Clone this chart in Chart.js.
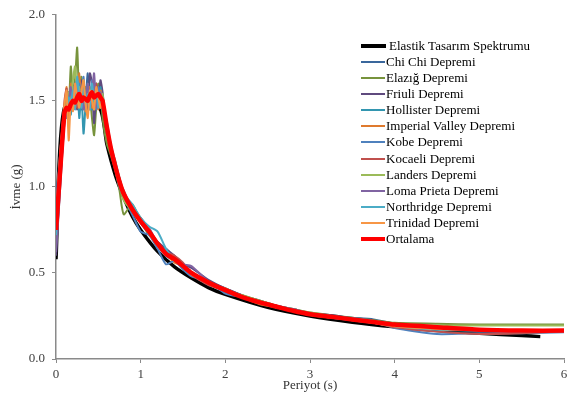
<!DOCTYPE html>
<html>
<head>
<meta charset="utf-8">
<script src="https://cdn.jsdelivr.net/npm/chart.js@4.4.0/dist/chart.umd.min.js"></script>
<style>
body { margin: 0; background: #fff; }
#wrap { position: relative; width: 585px; height: 401px; }
#legend { position: absolute; left: 361px; top: 37.6px; font-family: 'Liberation Serif', 'Times New Roman', serif; font-size: 13px; color: #000; }
#legend .row { height: 16.13px; display: flex; align-items: center; white-space: nowrap; }
#legend .sw { display: inline-block; width: 24px; margin-right: 1px; }
</style>
</head>
<body>
<div id="wrap">
  <canvas id="myChart" width="585" height="401"></canvas>
  <div id="legend"></div>
</div>
<script>
// periods (s) shared by the earthquake spectra
var periods = [0, 0.05, 0.1, 0.125, 0.15, 0.175, 0.2, 0.225, 0.25, 0.275,
  0.3, 0.325, 0.35, 0.375, 0.4, 0.425, 0.45, 0.475, 0.5, 0.525,
  0.55, 0.6, 0.65, 0.7, 0.75, 0.8, 0.9, 1.0, 1.1, 1.2,
  1.3, 1.4, 1.5, 1.6, 1.8, 2.0, 2.2, 2.4, 2.6, 2.8,
  3.0, 3.25, 3.5, 3.75, 4.0, 4.5, 5.0, 5.5, 6.0];

// elastic design spectrum
var designPeriods = [0, 0.1, 0.51, 0.6, 0.7, 0.8, 0.9, 1.0, 1.2, 1.4, 1.6, 1.8, 2.0, 2.5, 3.0, 3.5, 4.0, 4.5, 5.0, 5.5, 5.72];
var designValues = [0.58, 1.46, 1.46, 1.25, 1.07, 0.94, 0.83, 0.75, 0.625, 0.535, 0.47, 0.415, 0.375, 0.30, 0.25, 0.214, 0.187, 0.166, 0.15, 0.136, 0.13];

var chiChi = [0.95, 1.15, 1.40, 1.48, 1.42, 1.55, 1.50, 1.62, 1.48, 1.58,
  1.45, 1.60, 1.52, 1.66, 1.50, 1.58, 1.44, 1.60, 1.55, 1.48,
  1.52, 1.36, 1.20, 1.14, 1.02, 0.98, 0.86, 0.82, 0.75, 0.66,
  0.60, 0.57, 0.54, 0.50, 0.45, 0.41, 0.37, 0.34, 0.31, 0.29,
  0.265, 0.25, 0.24, 0.23, 0.205, 0.18, 0.165, 0.16, 0.16];
var elazig = [0.70, 1.05, 1.38, 1.52, 1.45, 1.70, 1.55, 1.62, 1.81, 1.50,
  1.64, 1.48, 1.58, 1.45, 1.52, 1.40, 1.30, 1.46, 1.60, 1.58,
  1.40, 1.25, 1.18, 1.10, 0.98, 0.84, 0.90, 0.80, 0.72, 0.68,
  0.62, 0.58, 0.53, 0.50, 0.45, 0.40, 0.37, 0.34, 0.31, 0.29,
  0.27, 0.255, 0.24, 0.225, 0.21, 0.205, 0.20, 0.20, 0.20];
var friuli = [0.60, 1.00, 1.38, 1.45, 1.55, 1.48, 1.52, 1.60, 1.45, 1.55,
  1.62, 1.50, 1.57, 1.42, 1.66, 1.60, 1.37, 1.52, 1.48, 1.62,
  1.55, 1.32, 1.22, 1.12, 1.04, 0.96, 0.88, 0.79, 0.73, 0.68,
  0.64, 0.60, 0.55, 0.53, 0.46, 0.41, 0.37, 0.33, 0.31, 0.285,
  0.265, 0.255, 0.235, 0.215, 0.195, 0.18, 0.17, 0.165, 0.165];
var hollister = [0.74, 1.10, 1.42, 1.50, 1.46, 1.42, 1.58, 1.52, 1.62, 1.40,
  1.55, 1.31, 1.48, 1.60, 1.52, 1.45, 1.56, 1.50, 1.47, 1.58,
  1.48, 1.38, 1.24, 1.15, 1.05, 0.95, 0.87, 0.81, 0.75, 0.68,
  0.62, 0.57, 0.53, 0.49, 0.44, 0.39, 0.36, 0.33, 0.30, 0.28,
  0.26, 0.245, 0.23, 0.215, 0.195, 0.175, 0.165, 0.16, 0.16];
var imperialValley = [0.80, 1.18, 1.45, 1.58, 1.40, 1.60, 1.45, 1.55, 1.50, 1.66,
  1.48, 1.56, 1.44, 1.52, 1.58, 1.46, 1.55, 1.50, 1.45, 1.56,
  1.50, 1.34, 1.22, 1.14, 1.02, 0.96, 0.89, 0.82, 0.74, 0.67,
  0.61, 0.56, 0.54, 0.50, 0.44, 0.41, 0.36, 0.32, 0.30, 0.28,
  0.255, 0.24, 0.23, 0.21, 0.19, 0.175, 0.17, 0.165, 0.165];
var kobe = [0.88, 1.20, 1.44, 1.40, 1.52, 1.46, 1.58, 1.48, 1.55, 1.60,
  1.50, 1.64, 1.45, 1.55, 1.48, 1.62, 1.52, 1.45, 1.58, 1.50,
  1.45, 1.33, 1.20, 1.10, 1.00, 0.94, 0.84, 0.74, 0.72, 0.64,
  0.55, 0.57, 0.52, 0.48, 0.45, 0.38, 0.36, 0.34, 0.30, 0.28,
  0.26, 0.24, 0.238, 0.22, 0.18, 0.145, 0.15, 0.15, 0.155];
var kocaeli = [0.78, 1.15, 1.50, 1.57, 1.45, 1.52, 1.48, 1.55, 1.46, 1.52,
  1.58, 1.48, 1.54, 1.50, 1.45, 1.56, 1.50, 1.60, 1.48, 1.52,
  1.46, 1.35, 1.23, 1.12, 1.05, 0.97, 0.87, 0.80, 0.74, 0.66,
  0.62, 0.60, 0.56, 0.49, 0.43, 0.40, 0.36, 0.33, 0.305, 0.28,
  0.26, 0.245, 0.225, 0.21, 0.185, 0.16, 0.145, 0.15, 0.16];
var landers = [0.68, 1.08, 1.40, 1.48, 1.55, 1.50, 1.62, 1.70, 1.52, 1.58,
  1.50, 1.62, 1.46, 1.54, 1.50, 1.58, 1.45, 1.55, 1.52, 1.46,
  1.54, 1.30, 1.20, 1.12, 1.02, 0.92, 0.86, 0.80, 0.73, 0.66,
  0.61, 0.58, 0.54, 0.50, 0.45, 0.40, 0.37, 0.34, 0.31, 0.29,
  0.27, 0.25, 0.235, 0.22, 0.205, 0.195, 0.195, 0.195, 0.195];
var lomaPrieta = [0.62, 1.02, 1.40, 1.46, 1.50, 1.58, 1.45, 1.55, 1.62, 1.48,
  1.56, 1.45, 1.52, 1.60, 1.48, 1.55, 1.66, 1.46, 1.52, 1.55,
  1.48, 1.36, 1.21, 1.13, 1.04, 0.95, 0.88, 0.80, 0.76, 0.67,
  0.62, 0.58, 0.55, 0.54, 0.45, 0.40, 0.36, 0.33, 0.31, 0.29,
  0.265, 0.25, 0.235, 0.22, 0.195, 0.18, 0.17, 0.165, 0.165];
var northridge = [0.72, 1.12, 1.46, 1.42, 1.52, 1.48, 1.56, 1.45, 1.64, 1.52,
  1.46, 1.58, 1.48, 1.54, 1.45, 1.60, 1.50, 1.56, 1.46, 1.52,
  1.50, 1.34, 1.23, 1.14, 1.05, 0.96, 0.90, 0.82, 0.77, 0.74,
  0.64, 0.57, 0.54, 0.50, 0.44, 0.40, 0.36, 0.33, 0.30, 0.28,
  0.255, 0.24, 0.225, 0.21, 0.19, 0.17, 0.165, 0.16, 0.16];
var trinidad = [0.82, 1.20, 1.48, 1.56, 1.27, 1.50, 1.44, 1.60, 1.52, 1.46,
  1.55, 1.62, 1.48, 1.40, 1.56, 1.50, 1.45, 1.58, 1.52, 1.46,
  1.50, 1.33, 1.22, 1.13, 1.04, 0.96, 0.87, 0.80, 0.75, 0.66,
  0.61, 0.57, 0.54, 0.49, 0.45, 0.40, 0.36, 0.33, 0.30, 0.28,
  0.26, 0.245, 0.23, 0.21, 0.19, 0.175, 0.17, 0.165, 0.165];
var ortalama = [0.75, 1.10, 1.43, 1.46, 1.45, 1.48, 1.50, 1.49, 1.52, 1.54,
  1.50, 1.52, 1.51, 1.50, 1.53, 1.55, 1.52, 1.53, 1.54, 1.52,
  1.50, 1.35, 1.22, 1.12, 1.03, 0.96, 0.87, 0.80, 0.74, 0.67,
  0.61, 0.58, 0.54, 0.50, 0.445, 0.40, 0.36, 0.33, 0.305, 0.28,
  0.26, 0.245, 0.23, 0.215, 0.20, 0.185, 0.17, 0.165, 0.165];

var yTicks = [0, 0.5, 1.0, 1.5, 2.0];
var xTicks = [0, 1, 2, 3, 4, 5, 6];

var series = [
  ['Elastik Tasarım Spektrumu', designPeriods, designValues, '#000000', 3.5],
  ['Chi Chi Depremi', periods, chiChi, '#3a679c', 2],
  ['Elazığ Depremi', periods, elazig, '#77933c', 2],
  ['Friuli Depremi', periods, friuli, '#5f4a7e', 2],
  ['Hollister Depremi', periods, hollister, '#3396b0', 2],
  ['Imperial Valley Depremi', periods, imperialValley, '#df7a2e', 2],
  ['Kobe Depremi', periods, kobe, '#4f81bd', 2],
  ['Kocaeli Depremi', periods, kocaeli, '#c0504d', 2],
  ['Landers Depremi', periods, landers, '#9bbb59', 2],
  ['Loma Prieta Depremi', periods, lomaPrieta, '#8064a2', 2],
  ['Northridge Depremi', periods, northridge, '#4bacc6', 2],
  ['Trinidad Depremi', periods, trinidad, '#f79646', 2],
  ['Ortalama', periods, ortalama, '#ff0000', 4.5]
];

function toPoints(xs, ys) {
  return xs.map(function (x, i) { return { x: x, y: ys[i] }; });
}

var datasets = series.map(function (s, i) {
  return {
    label: s[0],
    data: toPoints(s[1], s[2]),
    borderColor: s[3],
    backgroundColor: s[3],
    borderWidth: s[4],
    pointRadius: 0,
    tension: 0.2,
    fill: false,
    order: series.length - 1 - i
  };
});

Chart.defaults.font.family = "'Liberation Serif', 'Times New Roman', serif";
Chart.defaults.font.size = 13;
Chart.defaults.color = '#404040';

var axisColor = '#8a8a8a';
var ctx = document.getElementById('myChart').getContext('2d');
var chart = new Chart(ctx, {
  type: 'line',
  data: { datasets: datasets },
  options: {
    responsive: false,
    animation: false,
    devicePixelRatio: 1,
    layout: { padding: { top: 10, right: 21, left: 0, bottom: 0 } },
    plugins: { legend: { display: false }, tooltip: { enabled: false } },
    scales: {
      x: {
        type: 'linear',
        min: xTicks[0],
        max: xTicks[xTicks.length - 1],
        afterFit: function (s) { s.height = 42; },
        afterBuildTicks: function (s) { s.ticks = xTicks.map(function (v) { return { value: v }; }); },
        ticks: { padding: 4, color: '#404040', callback: function (v) { return String(v); } },
        grid: { drawOnChartArea: false, drawTicks: true, tickLength: 4, color: axisColor },
        border: { display: true, color: axisColor, width: 1.5 },
        title: { display: true, text: 'Periyot (s)', color: '#333', padding: { top: 0, bottom: 8 } }
      },
      y: {
        type: 'linear',
        min: yTicks[0],
        max: yTicks[yTicks.length - 1],
        afterFit: function (s) { s.width = 56; },
        afterBuildTicks: function (s) { s.ticks = yTicks.map(function (v) { return { value: v }; }); },
        ticks: { padding: 7, color: '#404040', callback: function (v) { return v.toFixed(1); } },
        grid: { drawOnChartArea: false, drawTicks: true, tickLength: 4, color: axisColor },
        border: { display: true, color: axisColor, width: 1.5 },
        title: { display: true, text: 'İvme (g)', color: '#333', padding: { top: 9, bottom: 0 } }
      }
    }
  }
});

// legend built from the chart's own datasets
var legend = document.getElementById('legend');
chart.data.datasets.forEach(function (d, i) {
  var row = document.createElement('div');
  row.className = 'row';
  var sw = document.createElement('span');
  sw.className = 'sw';
  sw.style.height = (d.borderWidth > 3 ? 4 : 2) + 'px';
  sw.style.background = d.borderColor;
  if (i === 0) { sw.style.width = '25px'; sw.style.marginRight = '3px'; }
  row.appendChild(sw);
  row.appendChild(document.createTextNode(d.label));
  legend.appendChild(row);
});
</script>
</body>
</html>
